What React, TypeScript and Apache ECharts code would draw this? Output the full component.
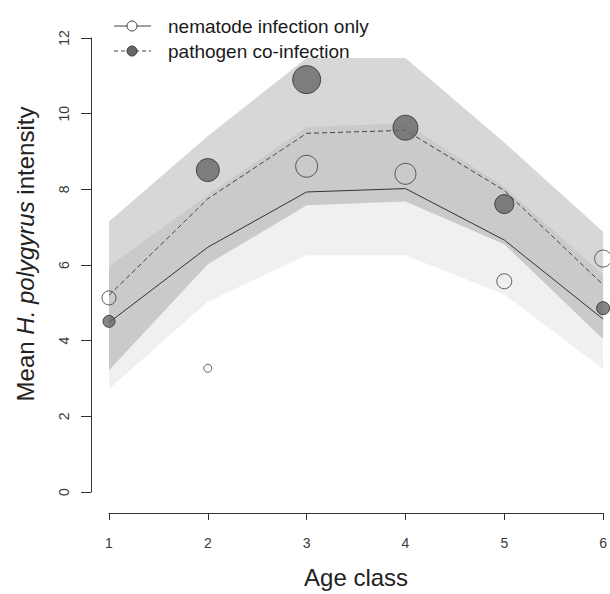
import React, { useEffect, useRef } from 'react';
import * as echarts from 'echarts';

// ---- data ----
const ageClasses = [1, 2, 3, 4, 5, 6];
const yTicks = [0, 2, 4, 6, 8, 10, 12];

// nematode infection only
const nematodeMean = [4.48, 6.47, 7.93, 8.02, 6.66, 4.57];
const nematodeLower = [2.72, 5.03, 6.26, 6.26, 5.22, 3.25];
const nematodeUpper = [5.97, 7.85, 9.65, 9.75, 8.06, 5.75];
const nematodeObs = [5.13, 3.27, 8.61, 8.41, 5.57, 6.17];
const nematodeSize = [14, 8, 22, 21, 15, 17];

// pathogen co-infection
const coinfMean = [5.2, 7.75, 9.48, 9.56, 7.97, 5.48];
const coinfLower = [3.22, 6.02, 7.58, 7.68, 6.55, 4.04];
const coinfUpper = [7.15, 9.41, 11.47, 11.47, 9.24, 6.88];
const coinfObs = [4.51, 8.51, 10.9, 9.63, 7.61, 4.86];
const coinfSize = [12, 23, 28, 25, 19, 13];

const legendLabels = ['nematode infection only', 'pathogen co-infection'];

const FONT = '"Liberation Sans", Arial, Helvetica, sans-serif';

function bandSeries(lower: number[], upper: number[], fill: string) {
  return {
    type: 'custom',
    silent: true,
    z: 1,
    data: [[1, 0]],
    renderItem: (_params: any, api: any) => {
      const pts: number[][] = [];
      ageClasses.forEach((a, i) => pts.push(api.coord([a, upper[i]])));
      for (let i = ageClasses.length - 1; i >= 0; i--) {
        pts.push(api.coord([ageClasses[i], lower[i]]));
      }
      return { type: 'polygon', shape: { points: pts }, style: { fill } };
    },
  };
}

export default function App() {
  const ref = useRef<HTMLDivElement>(null);

  useEffect(() => {
    document.body.style.margin = '0';
    const chart = echarts.init(ref.current!, null, { renderer: 'svg' });

    const legendRows = [
      { y: 26, dash: false, fill: '#ffffff' },
      { y: 51, dash: true, fill: '#666666' },
    ];
    const graphic: any[] = [];
    legendRows.forEach((r, i) => {
      graphic.push({
        type: 'line',
        shape: { x1: 114, y1: r.y, x2: 151, y2: r.y },
        style: { stroke: '#444', lineWidth: 1, lineDash: r.dash ? [4, 3] : null },
      });
      graphic.push({
        type: 'circle',
        shape: { cx: 132, cy: r.y, r: 5 },
        style: { fill: r.fill, stroke: '#333', lineWidth: 1 },
      });
      graphic.push({
        type: 'text',
        x: 168,
        y: r.y,
        style: {
          text: legendLabels[i],
          font: `19px ${FONT}`,
          fill: '#1a1a1a',
          verticalAlign: 'middle',
          align: 'left',
        },
      });
    });

    chart.setOption({
      animation: false,
      backgroundColor: '#ffffff',
      grid: { left: 109, right: 4, top: 38, bottom: 98, containLabel: false },
      xAxis: {
        type: 'value',
        min: 1,
        max: 6,
        interval: 1,
        offset: 21,
        name: 'Age class',
        nameLocation: 'middle',
        nameGap: 52,
        nameTextStyle: { fontFamily: FONT, fontSize: 24, color: '#222' },
        axisLine: { show: true, onZero: false, lineStyle: { color: '#333', width: 1 } },
        axisTick: { show: true, length: 7, lineStyle: { color: '#333' } },
        axisLabel: { fontFamily: FONT, fontSize: 14, color: '#3a3a3a', margin: 23 },
        splitLine: { show: false },
      },
      yAxis: {
        type: 'value',
        min: yTicks[0],
        max: yTicks[yTicks.length - 1],
        interval: 2,
        offset: 18,
        name: 'Mean {i|H. polygyrus} intensity',
        nameLocation: 'middle',
        nameGap: 54,
        nameRotate: 90,
        nameTextStyle: {
          fontFamily: FONT,
          fontSize: 24,
          color: '#222',
          padding: [0, 0, 0, 22],
          rich: { i: { fontStyle: 'italic', fontFamily: FONT, fontSize: 24, color: '#222' } },
        },
        axisLine: { show: true, onZero: false, lineStyle: { color: '#333', width: 1 } },
        axisTick: { show: true, length: 10, lineStyle: { color: '#333' } },
        axisLabel: { fontFamily: FONT, fontSize: 14, color: '#3a3a3a', margin: 20, rotate: 90 },
        splitLine: { show: false },
      },
      graphic,
      series: [
        bandSeries(nematodeLower, nematodeUpper, 'rgba(0,0,0,0.06)'),
        bandSeries(coinfLower, coinfUpper, 'rgba(0,0,0,0.155)'),
        {
          type: 'line',
          z: 2,
          symbol: 'none',
          silent: true,
          data: ageClasses.map((a, i) => [a, nematodeMean[i]]),
          lineStyle: { color: '#333', width: 1 },
        },
        {
          type: 'line',
          z: 2,
          symbol: 'none',
          silent: true,
          data: ageClasses.map((a, i) => [a, coinfMean[i]]),
          lineStyle: { color: '#444', width: 1, type: [5, 3] },
        },
        {
          type: 'scatter',
          z: 3,
          data: ageClasses.map((a, i) => [a, nematodeObs[i], nematodeSize[i]]),
          symbolSize: (v: number[]) => v[2],
          itemStyle: { color: 'rgba(0,0,0,0)', borderColor: '#3a3a3a', borderWidth: 1 },
        },
        {
          type: 'scatter',
          z: 3,
          data: ageClasses.map((a, i) => [a, coinfObs[i], coinfSize[i]]),
          symbolSize: (v: number[]) => v[2],
          itemStyle: { color: '#666666', borderColor: '#2a2a2a', borderWidth: 1 },
        },
      ],
    });

    return () => chart.dispose();
  }, []);

  return <div ref={ref} style={{ width: 610, height: 594 }} />;
}
